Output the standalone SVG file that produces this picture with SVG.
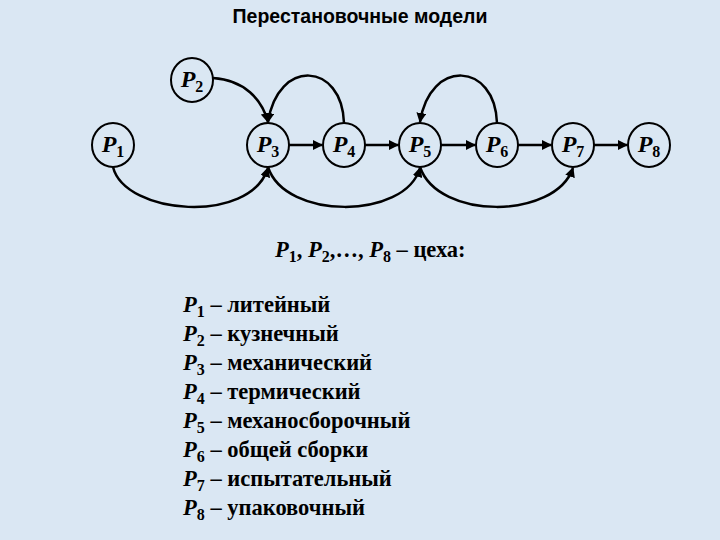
<svg xmlns="http://www.w3.org/2000/svg" width="720" height="540" viewBox="0 0 720 540">
<style>
.n{fill:none;stroke:#000;stroke-width:2}
.t{font-family:"Liberation Serif",serif;font-weight:bold;font-size:24px;text-anchor:middle}
.c{fill:none;stroke:#000;stroke-width:2.5}
.l{font-family:"Liberation Serif",serif;font-weight:bold;font-size:22.5px}
.it{font-style:italic}
</style>
<defs><marker id="a" viewBox="0 0 10 10" refX="9" refY="5" markerWidth="4" markerHeight="4" orient="auto"><path d="M0,0L10,5L0,10z"/></marker></defs>
<rect width="720" height="540" fill="#dae7f3"/>
<text x="360" y="23" font-family="Liberation Sans,sans-serif" font-weight="bold" font-size="19.5" text-anchor="middle">Перестановочные модели</text>
<g id="P1"><ellipse class="n" cx="113" cy="145" rx="21" ry="22"/><text class="t" x="113" y="152"><tspan class="it">P</tspan><tspan font-size="16" dy="5">1</tspan></text></g>
<g id="P2"><ellipse class="n" cx="192" cy="80" rx="21" ry="22"/><text class="t" x="192" y="87"><tspan class="it">P</tspan><tspan font-size="16" dy="5">2</tspan></text></g>
<g id="P3"><ellipse class="n" cx="268" cy="145" rx="21" ry="22"/><text class="t" x="268" y="152"><tspan class="it">P</tspan><tspan font-size="16" dy="5">3</tspan></text></g>
<g id="P4"><ellipse class="n" cx="344" cy="145" rx="21" ry="22"/><text class="t" x="344" y="152"><tspan class="it">P</tspan><tspan font-size="16" dy="5">4</tspan></text></g>
<g id="P5"><ellipse class="n" cx="420" cy="145" rx="21" ry="22"/><text class="t" x="420" y="152"><tspan class="it">P</tspan><tspan font-size="16" dy="5">5</tspan></text></g>
<g id="P6"><ellipse class="n" cx="497" cy="145" rx="21" ry="22"/><text class="t" x="497" y="152"><tspan class="it">P</tspan><tspan font-size="16" dy="5">6</tspan></text></g>
<g id="P7"><ellipse class="n" cx="573" cy="145" rx="21" ry="22"/><text class="t" x="573" y="152"><tspan class="it">P</tspan><tspan font-size="16" dy="5">7</tspan></text></g>
<g id="P8"><ellipse class="n" cx="649" cy="145" rx="21" ry="22"/><text class="t" x="649" y="152"><tspan class="it">P</tspan><tspan font-size="16" dy="5">8</tspan></text></g>
<g id="connectors" class="c" marker-end="url(#a)">
<path d="M289,145H322"/><path d="M365,145H398"/><path d="M441,145H475"/><path d="M518,145H551"/><path d="M594,145H627"/>
<path d="M213,78C245,80 262,100 268,122"/>
<path d="M344,123C342,62 278,58 268,122"/>
<path d="M497,123C495,62 430,58 420,122"/>
<path d="M113,167C125,215 250,225 268,168"/>
<path d="M268,167C285,220 405,220 420,168"/>
<path d="M420,167C438,220 555,220 573,168"/>
</g>
<text class="l" x="275" y="257" font-size="23.5"><tspan class="it">P</tspan><tspan font-size="16" dy="5">1</tspan><tspan dy="-5">, </tspan><tspan class="it">P</tspan><tspan font-size="16" dy="5">2</tspan><tspan dy="-5">,…, </tspan><tspan class="it">P</tspan><tspan font-size="16" dy="5">8</tspan><tspan dy="-5"> – цеха:</tspan></text>
<g class="l">
<text x="183" y="312"><tspan class="it">P</tspan><tspan font-size="16" dy="5">1</tspan><tspan dy="-5"> – литейный</tspan></text>
<text x="183" y="341"><tspan class="it">P</tspan><tspan font-size="16" dy="5">2</tspan><tspan dy="-5"> – кузнечный</tspan></text>
<text x="183" y="370"><tspan class="it">P</tspan><tspan font-size="16" dy="5">3</tspan><tspan dy="-5"> – механический</tspan></text>
<text x="183" y="399"><tspan class="it">P</tspan><tspan font-size="16" dy="5">4</tspan><tspan dy="-5"> – термический</tspan></text>
<text x="183" y="428"><tspan class="it">P</tspan><tspan font-size="16" dy="5">5</tspan><tspan dy="-5"> – механосборочный</tspan></text>
<text x="183" y="457"><tspan class="it">P</tspan><tspan font-size="16" dy="5">6</tspan><tspan dy="-5"> – общей сборки</tspan></text>
<text x="183" y="486"><tspan class="it">P</tspan><tspan font-size="16" dy="5">7</tspan><tspan dy="-5"> – испытательный</tspan></text>
<text x="183" y="515"><tspan class="it">P</tspan><tspan font-size="16" dy="5">8</tspan><tspan dy="-5"> – упаковочный</tspan></text>
</g>
</svg>
